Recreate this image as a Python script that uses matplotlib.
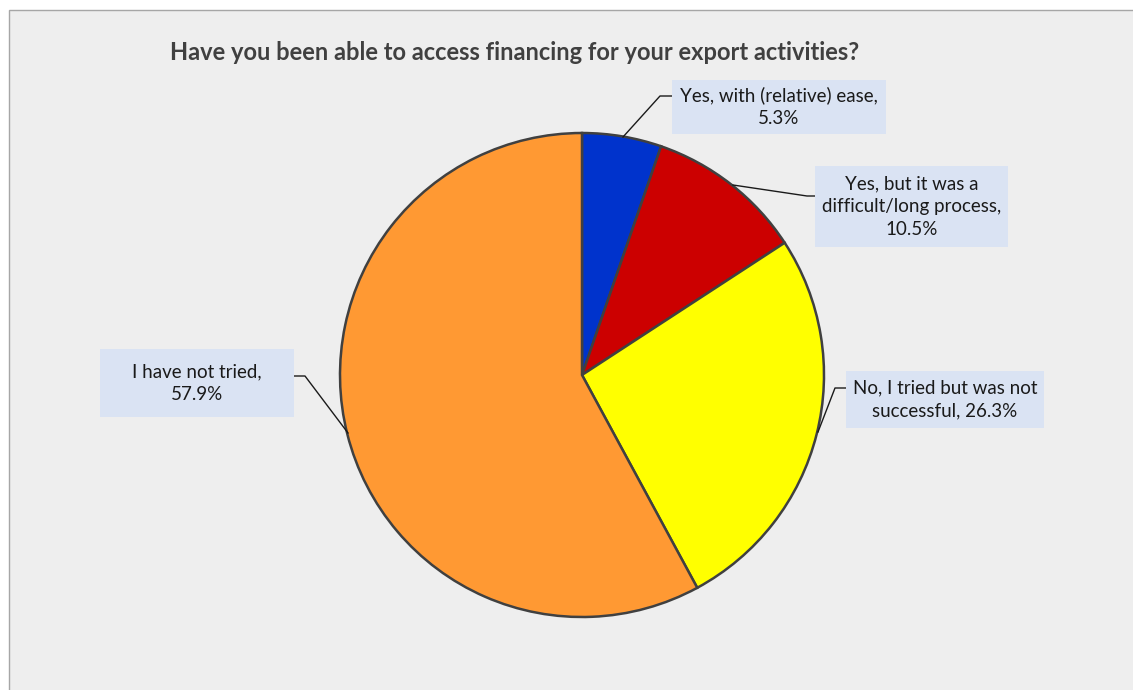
import matplotlib.pyplot as plt
from matplotlib.patches import Rectangle

# Survey responses (share of respondents, %)
categories = [
    "Yes, with (relative) ease,",
    "Yes, but it was a\ndifficult/long process,",
    "No, I tried but was not\nsuccessful,",
    "I have not tried,",
]
shares = [5.3, 10.5, 26.3, 57.9]
slice_colors = ["#0033CC", "#CC0000", "#FFFF00", "#FF9933"]
title = "Have you been able to access financing for your export activities?"

W, H = 1133, 690
plt.rcParams['font.family'] = ['Lato', 'DejaVu Sans']

fig = plt.figure(figsize=(W / 100, H / 100), dpi=100)
fig.patch.set_facecolor('white')
ax = fig.add_axes([0, 0, 1, 1])
ax.set_xlim(0, W)
ax.set_ylim(0, H)
ax.set_aspect('equal')
ax.axis('off')


def py(y):
    # pixel row (from top) -> axes y
    return H - y


# chart area panel
ax.add_patch(Rectangle((9, -5), W, py(10) + 5, facecolor='#EEEEEE',
                       edgecolor='#A6A6A6', linewidth=1, zorder=0))

ax.text(515, py(52), title, ha='center', va='center', fontsize=17,
        fontweight='bold', color='#404040')

ax.pie(shares, colors=slice_colors, startangle=90, counterclock=False,
       center=(582, py(375)), radius=242, frame=True,
       wedgeprops=dict(edgecolor='#404040', linewidth=1.8))
ax.set_xlim(0, W)
ax.set_ylim(0, H)
ax.axis('off')

# label boxes: (left, top, right, bottom) and leader line points, in pixels
boxes = [
    (672, 80, 886, 134),
    (815, 166, 1008, 247),
    (846, 371, 1044, 428),
    (100, 349, 294, 417),
]
leaders = [
    [(623, 137), (660, 96), (672, 96)],
    [(733, 185), (807, 196), (815, 196)],
    [(818, 432), (835, 388), (846, 388)],
    [(348, 433), (305, 376), (294, 376)],
]

for i, (cat, val) in enumerate(zip(categories, shares)):
    x0, y0, x1, y1 = boxes[i]
    ax.add_patch(Rectangle((x0, py(y1)), x1 - x0, y1 - y0,
                           facecolor='#DAE3F3', edgecolor='none', zorder=3))
    if i == 2:
        label = f"{cat} {val:.1f}%"
    else:
        label = f"{cat}\n{val:.1f}%"
    ax.text((x0 + x1) / 2, py((y0 + y1) / 2), label, ha='center',
            va='center', fontsize=13.5, color='#1A1A1A', linespacing=1.4,
            zorder=4)
    xs = [p[0] for p in leaders[i]]
    ys = [py(p[1]) for p in leaders[i]]
    ax.plot(xs, ys, color='#1A1A1A', linewidth=1, zorder=2)

fig.savefig('out.png', dpi=100, facecolor=fig.get_facecolor())
